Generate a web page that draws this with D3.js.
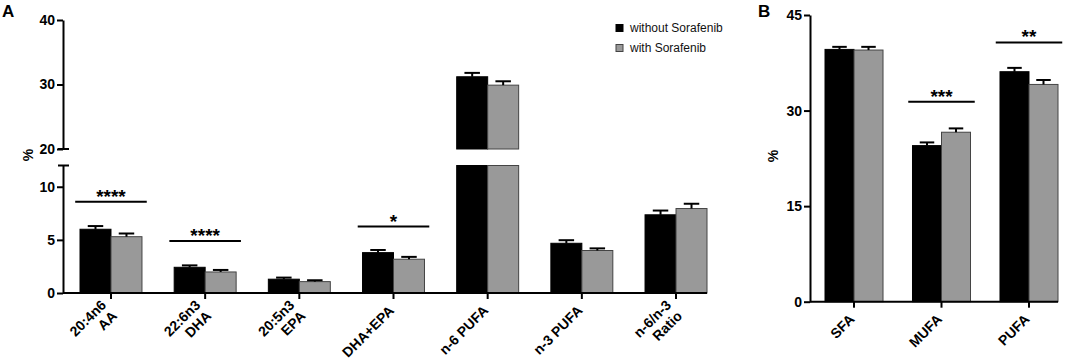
<!doctype html>
<html>
<head>
<meta charset="utf-8"/>
<script src="https://cdn.jsdelivr.net/npm/d3@7"></script>
<style>
  body { margin: 0; background: #fff; }
  text { font-family: Arial, "Liberation Sans", Helvetica, sans-serif; }
</style>
</head>
<body>
<script>
// ---- data ----
const seriesNames = ['without Sorafenib', 'with Sorafenib'];
const seriesFill = ['#000000', '#999999'];

const catsA = [['20:4n6', 'AA'], ['22:6n3', 'DHA'], ['20:5n3', 'EPA'], ['DHA+EPA'], ['n-6 PUFA'], ['n-3 PUFA'], ['n-6/n-3', 'Ratio']];
const withoutA = [6.0, 2.42, 1.3, 3.8, 31.2, 4.68, 7.36];
const withoutAErr = [0.3, 0.18, 0.15, 0.25, 0.6, 0.29, 0.4];
const withA = [5.3, 1.98, 1.07, 3.18, 29.9, 4.0, 7.95];
const withAErr = [0.3, 0.19, 0.13, 0.22, 0.6, 0.2, 0.45];
const ticksALow = [0, 5, 10];
const ticksAHigh = [20, 30, 40];
const sigA = [{ i: 0, y: 8.6, label: '****' }, { i: 1, y: 4.9, label: '****' }, { i: 3, y: 6.25, label: '*' }];

const catsB = [['SFA'], ['MUFA'], ['PUFA']];
const withoutB = [39.6, 24.5, 36.1];
const withoutBErr = [0.4, 0.5, 0.6];
const withB = [39.5, 26.6, 34.1];
const withBErr = [0.5, 0.6, 0.7];
const ticksB = [0, 15, 30, 45];
const sigB = [{ i: 1, y: 31.4, label: '***' }, { i: 2, y: 40.7, label: '**' }];

const W = 1065, H = 361;
const svg = d3.select('body').append('svg')
  .attr('width', W).attr('height', H)
  .attr('viewBox', [0, 0, W, H]);

function rows(cats, a, aErr, b, bErr) {
  const out = [];
  cats.forEach((c, i) => {
    out.push({ i, s: 0, v: a[i], e: aErr[i] });
    out.push({ i, s: 1, v: b[i], e: bErr[i] });
  });
  return out;
}

// pieces: list of {scale, lo, hi} segments of the y axis
function drawPanel(g, opt) {
  const x = d3.scaleBand().domain(d3.range(opt.cats.length))
    .range(opt.xRange).paddingInner(opt.padInner).paddingOuter(0);
  const xs = d3.scaleBand().domain([0, 1]).range([0, x.bandwidth()]);
  const data = rows(opt.cats, opt.a, opt.aErr, opt.b, opt.bErr);
  const bw = xs.bandwidth();

  // bars, split over the y segments
  opt.pieces.forEach(p => {
    g.append('g').selectAll('rect')
      .data(data.filter(d => d.v > p.lo))
      .join('rect')
      .attr('x', d => x(d.i) + xs(d.s))
      .attr('width', bw)
      .attr('y', d => p.scale(Math.min(d.v, p.hi)))
      .attr('height', d => p.scale(p.lo) - p.scale(Math.min(d.v, p.hi)))
      .attr('fill', d => seriesFill[d.s])
      .attr('stroke', d => d.s ? '#444' : '#000')
      .attr('stroke-width', 1);
  });

  // error bars (upward only)
  const seg = v => opt.pieces.find(p => v >= p.lo && v <= p.hi + 1) || opt.pieces[0];
  const eb = g.append('g').attr('stroke', '#000').attr('stroke-width', 2);
  data.forEach(d => {
    const sc = seg(d.v).scale;
    const cx = x(d.i) + xs(d.s) + bw / 2;
    eb.append('line').attr('x1', cx).attr('x2', cx)
      .attr('y1', sc(d.v)).attr('y2', sc(d.v + d.e));
    eb.append('line').attr('x1', cx - bw / 4).attr('x2', cx + bw / 4)
      .attr('y1', sc(d.v + d.e)).attr('y2', sc(d.v + d.e));
  });

  // x axis
  const y0 = opt.pieces[0].scale(0);
  g.append('line').attr('x1', opt.axisX).attr('x2', opt.xRange[1])
    .attr('y1', y0).attr('y2', y0).attr('stroke', '#000').attr('stroke-width', 2);
  const xa = g.append('g').attr('transform', `translate(0,${y0})`)
    .call(d3.axisBottom(x).tickSize(6).tickSizeOuter(0).tickFormat(''));
  xa.select('.domain').remove();
  xa.selectAll('.tick line').attr('stroke-width', 2);

  const lab = g.append('g');
  opt.cats.forEach((c, i) => {
    const cx = x(i) + x.bandwidth() / 2;
    const t = lab.append('text')
      .attr('transform', `translate(${cx - 2},${y0 + 15}) rotate(-45)`)
      .attr('text-anchor', 'end')
      .attr('font-size', 14).attr('font-weight', 'bold');
    c.forEach((line, k) => {
      t.append('tspan').attr('x', 0)
        .attr('y', (k - (c.length - 1) / 2) * 15.5)
        .attr('dy', '0.35em')
        .text(line);
    });
  });

  // y axis segments
  opt.pieces.forEach(p => {
    const ya = g.append('g').attr('transform', `translate(${opt.axisX},0)`)
      .call(d3.axisLeft(p.scale).tickValues(p.ticks).tickSize(6).tickSizeOuter(0).tickPadding(2));
    ya.select('.domain').attr('stroke-width', 2);
    ya.selectAll('.tick line').attr('stroke-width', 2);
    ya.selectAll('.tick text').attr('font-size', 14).attr('font-weight', 'bold')
      .attr('fill', '#000').attr('font-family', 'Arial, "Liberation Sans", sans-serif');
  });
  if (opt.pieces.length > 1) {
    // break marks
    const lowTop = opt.pieces[0].scale(opt.pieces[0].hi);
    const highBot = opt.pieces[1].scale(opt.pieces[1].lo);
    [lowTop, highBot].forEach(yy => {
      g.append('line').attr('x1', opt.axisX - 5).attr('x2', opt.axisX + 6)
        .attr('y1', yy).attr('y2', yy).attr('stroke', '#000').attr('stroke-width', 2);
    });
  }

  // significance
  const sg = g.append('g');
  opt.sig.forEach(s => {
    const cx = x(s.i) + x.bandwidth() / 2;
    const half = x.step() * 0.38;
    const yy = opt.pieces[0].scale(s.y);
    sg.append('line').attr('x1', cx - half).attr('x2', cx + half)
      .attr('y1', yy).attr('y2', yy).attr('stroke', '#000').attr('stroke-width', 2);
    sg.append('text').attr('x', cx).attr('y', yy + 1)
      .attr('text-anchor', 'middle').attr('font-size', 19).attr('font-weight', 'bold')
      .text(s.label);
  });

  // y title and panel letter
  g.append('text').attr('transform', `translate(${opt.titleX},${opt.titleY}) rotate(-90)`)
    .attr('text-anchor', 'middle').attr('dy', '0.35em')
    .attr('font-size', 14).attr('font-weight', 'bold').text('%');
  g.append('text').attr('x', opt.letterX).attr('y', 17)
    .attr('font-size', 17).attr('font-weight', 'bold').text(opt.letter);
}

// panel A
const yALow = d3.scaleLinear().domain([0, 12]).range([293, 165.5]);
const yAHigh = d3.scaleLinear().domain([20, 40]).range([149, 20]);
drawPanel(svg.append('g'), {
  cats: catsA, a: withoutA, aErr: withoutAErr, b: withA, bErr: withAErr,
  xRange: [80, 707], padInner: 0.342, axisX: 63,
  pieces: [
    { scale: yALow, lo: 0, hi: 12, ticks: ticksALow },
    { scale: yAHigh, lo: 20, hi: 40, ticks: ticksAHigh }
  ],
  sig: sigA, titleX: 28, titleY: 155, letter: 'A', letterX: 2
});

// panel B
const yB = d3.scaleLinear().domain([0, 45]).range([301.7, 15]);
drawPanel(svg.append('g'), {
  cats: catsB, a: withoutB, aErr: withoutBErr, b: withB, bErr: withBErr,
  xRange: [825, 1058], padInner: 0.337, axisX: 810,
  pieces: [{ scale: yB, lo: 0, hi: 45, ticks: ticksB }],
  sig: sigB, titleX: 773, titleY: 156, letter: 'B', letterX: 758
});

// legend
const leg = svg.append('g').attr('transform', 'translate(616,0)');
seriesNames.forEach((n, k) => {
  const cy = 28 + k * 20;
  leg.append('rect').attr('x', 0).attr('y', cy - 3.5).attr('width', 7).attr('height', 7)
    .attr('fill', seriesFill[k]).attr('stroke', k ? '#444' : '#000').attr('stroke-width', 1);
  leg.append('text').attr('x', 14).attr('y', cy).attr('dy', '0.35em')
    .attr('font-size', 12).attr('fill', '#111').text(n);
});
</script>
</body>
</html>
